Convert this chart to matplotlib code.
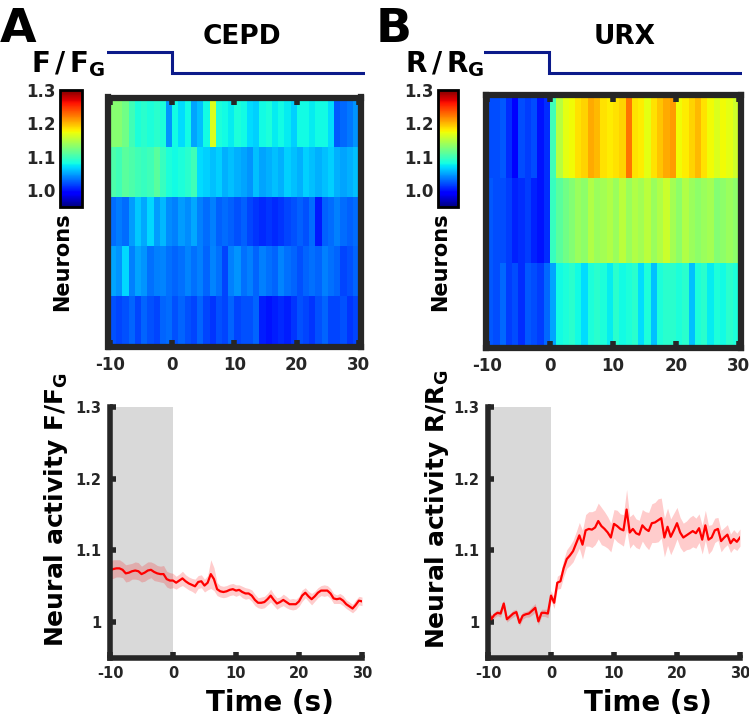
import numpy as np
import matplotlib.pyplot as plt

plt.rcParams['font.family'] = 'DejaVu Sans'
plt.rcParams['font.weight'] = 'bold'
plt.rcParams['mathtext.default'] = 'bf'
plt.rcParams['axes.unicode_minus'] = False

W, H = 749, 719
dark = '#262626'

# ---- dados ----
tempo = np.arange(-10, 30.01, 0.5)      # s, amostras a cada 0.5 s

cepd_mean = [1.072, 1.074, 1.075, 1.075, 1.073, 1.068, 1.069, 1.071, 1.072, 1.071,
             1.067, 1.069, 1.072, 1.073, 1.070, 1.068, 1.067, 1.067, 1.060, 1.058,
             1.058, 1.055, 1.058, 1.061, 1.057, 1.054, 1.052, 1.050, 1.056, 1.057,
             1.051, 1.055, 1.067, 1.060, 1.046, 1.043, 1.042, 1.043, 1.045, 1.046,
             1.044, 1.045, 1.042, 1.040, 1.040, 1.037, 1.031, 1.027, 1.027, 1.028,
             1.032, 1.037, 1.031, 1.026, 1.028, 1.031, 1.028, 1.025, 1.025, 1.025,
             1.029, 1.037, 1.041, 1.036, 1.032, 1.036, 1.041, 1.044, 1.044, 1.044,
             1.040, 1.033, 1.032, 1.033, 1.030, 1.025, 1.022, 1.019, 1.024, 1.030,
             1.029]
cepd_err = [.012, .013, .012, .012, .011, .012, .012, .011, .012, .012,
            .011, .012, .012, .011, .012, .011, .011, .012, .011, .011,
            .010, .009, .009, .010, .009, .009, .009, .010, .009, .009,
            .009, .010, .020, .016, .009, .008, .008, .008, .008, .008,
            .008, .007, .008, .008, .007, .008, .008, .007, .008, .008,
            .008, .009, .008, .008, .007, .008, .008, .007, .008, .007,
            .007, .008, .007, .007, .008, .007, .007, .007, .008, .007,
            .007, .007, .006, .007, .007, .006, .006, .006, .007, .006,
            .006]

urx_mean = [1.020, 1.004, 1.010, 1.013, 1.012, 1.026, 1.004, 1.008, 1.012, 1.014,
            0.999, 1.009, 1.011, 1.012, 1.016, 1.020, 1.001, 1.013, 1.013, 1.012,
            1.037, 1.027, 1.055, 1.057, 1.075, 1.088, 1.093, 1.099, 1.110, 1.121,
            1.108, 1.128, 1.130, 1.129, 1.132, 1.141, 1.134, 1.130, 1.125, 1.118,
            1.137, 1.134, 1.130, 1.128, 1.157, 1.125, 1.130, 1.124, 1.122, 1.135,
            1.130, 1.127, 1.138, 1.139, 1.142, 1.145, 1.118, 1.133, 1.119, 1.128,
            1.138, 1.125, 1.118, 1.121, 1.124, 1.127, 1.124, 1.131, 1.115, 1.135,
            1.115, 1.118, 1.128, 1.130, 1.113, 1.118, 1.122, 1.110, 1.116, 1.112,
            1.118]
urx_err = [.004, .005, .004, .004, .005, .005, .004, .004, .005, .004,
           .004, .005, .004, .005, .006, .006, .005, .005, .005, .006,
           .007, .008, .009, .010, .012, .013, .014, .015, .016, .018,
           .020, .022, .024, .025, .024, .025, .026, .024, .022, .020,
           .020, .022, .021, .022, .028, .022, .021, .020, .020, .022,
           .024, .026, .027, .028, .030, .028, .027, .026, .025, .024,
           .022, .021, .020, .020, .022, .022, .021, .020, .020, .021,
           .020, .018, .017, .016, .015, .014, .014, .013, .013, .012,
           .012]

# heatmaps: uma linha por neurónio, colunas de 1 s entre -10 e 30 s
cepd_heat = [
    [1.130, 1.130, 1.120, 1.100, 1.085, 1.090, 1.085, 1.090, 1.085, 1.045,
     1.080, 1.070, 1.080, 1.050, 1.060, 1.080, 1.165, 1.085, 1.080, 1.075,
     1.085, 1.080, 1.070, 1.065, 1.080, 1.085, 1.075, 1.080, 1.075, 1.065,
     1.080, 1.080, 1.075, 1.080, 1.080, 1.070, 1.025, 1.030, 1.035, 1.045],
    [1.105, 1.100, 1.110, 1.105, 1.100, 1.095, 1.100, 1.110, 1.095, 1.085,
     1.080, 1.085, 1.090, 1.100, 1.070, 1.065, 1.060, 1.065, 1.055, 1.060,
     1.055, 1.050, 1.045, 1.060, 1.050, 1.055, 1.060, 1.055, 1.065, 1.060,
     1.055, 1.065, 1.060, 1.055, 1.060, 1.065, 1.055, 1.050, 1.055, 1.060],
    [1.032, 1.037, 1.032, 1.048, 1.063, 1.052, 1.068, 1.048, 1.058, 1.042,
     1.038, 1.048, 1.042, 1.052, 1.038, 1.032, 1.038, 1.027, 1.032, 1.027,
     1.022, 1.027, 1.017, 1.012, 1.008, 1.012, 1.008, 1.012, 1.018, 1.022,
     1.027, 1.022, 1.032, 1.002, 1.027, 1.032, 1.038, 1.032, 1.027, 1.032],
    [1.050, 1.045, 1.068, 1.038, 1.050, 1.045, 1.033, 1.038, 1.040, 1.033,
     1.028, 1.033, 1.040, 1.033, 1.038, 1.028, 1.040, 1.033, 1.018, 1.038,
     1.045, 1.033, 1.038, 1.028, 1.038, 1.033, 1.028, 1.040, 1.033, 1.028,
     1.022, 1.028, 1.033, 1.028, 1.038, 1.033, 1.028, 1.018, 1.022, 1.028],
    [1.022, 1.018, 1.022, 1.028, 1.018, 1.028, 1.022, 1.018, 1.028, 1.032,
     1.022, 1.028, 1.022, 1.018, 1.028, 1.018, 1.012, 1.022, 1.018, 1.028,
     1.018, 1.022, 1.022, 1.028, 1.004, 1.000, 1.004, 1.008, 1.004, 1.012,
     1.022, 1.018, 1.012, 1.022, 1.028, 1.018, 1.018, 1.022, 1.012, 1.018],
]
urx_heat = [
    [1.020, 1.020, 1.025, 1.010, 0.995, 1.020, 1.015, 1.020, 1.000, 1.010,
     1.100, 1.150, 1.170, 1.175, 1.185, 1.190, 1.205, 1.200, 1.185, 1.180,
     1.185, 1.190, 1.225, 1.185, 1.180, 1.170, 1.185, 1.195, 1.205, 1.210,
     1.175, 1.180, 1.190, 1.200, 1.185, 1.175, 1.165, 1.175, 1.170, 1.160],
    [1.025, 1.020, 1.020, 1.015, 1.005, 1.010, 1.015, 1.005, 1.000, 1.010,
     1.095, 1.110, 1.120, 1.128, 1.138, 1.132, 1.148, 1.138, 1.142, 1.148,
     1.138, 1.152, 1.138, 1.148, 1.142, 1.152, 1.138, 1.148, 1.158, 1.142,
     1.132, 1.148, 1.138, 1.132, 1.138, 1.142, 1.128, 1.132, 1.138, 1.132],
    [1.025, 1.020, 1.030, 1.015, 1.020, 1.010, 1.025, 1.020, 1.015, 1.030,
     1.050, 1.080, 1.085, 1.090, 1.080, 1.070, 1.085, 1.090, 1.085, 1.075,
     1.090, 1.080, 1.085, 1.090, 1.070, 1.085, 1.060, 1.085, 1.090, 1.090,
     1.085, 1.090, 1.060, 1.085, 1.090, 1.075, 1.085, 1.080, 1.090, 1.085],
]

# estímulo (O2): nível alto antes de t=0, baixo depois
stim_t = [-10, 0, 0, 30]
stim_nivel = [1, 1, 0, 0]

xticks = [-10, 0, 10, 20, 30]
cbar_ticks = [1.0, 1.1, 1.2, 1.3]


def pos(x0, y0, x1, y1):
    # pixels (topo-esquerda) -> fracção da figura
    return [x0 / W, 1 - y1 / H, (x1 - x0) / W, (y1 - y0) / H]


fig = plt.figure(figsize=(W / 100, H / 100), dpi=100)


def painel_heat(rect, dados, cbar_rect, stim_rect):
    ax = fig.add_axes(rect)
    n = len(dados)
    im = ax.imshow(dados, cmap='jet', vmin=0.95, vmax=1.3, aspect='auto',
                   interpolation='nearest', extent=(-10, 30, 0, n))
    ax.set_xlim(-10.3, 30.3)
    ax.set_ylim(0, n)
    for s in ax.spines.values():
        s.set_linewidth(4.5)
        s.set_color(dark)
    ax.set_yticks([])
    ax.set_xticks(xticks)
    ax.tick_params(axis='x', direction='in', length=5, width=4, top=True,
                   color=dark, labelsize=12, pad=7, labelcolor=dark)

    cax = fig.add_axes(cbar_rect)
    cb = fig.colorbar(im, cax=cax)
    cb.outline.set_linewidth(2)
    cb.outline.set_edgecolor('black')
    cb.set_ticks(cbar_ticks)
    cb.set_ticklabels([f'{v:.1f}' for v in cbar_ticks])
    cax.yaxis.set_ticks_position('left')
    cax.tick_params(length=0, labelsize=12, pad=3, labelcolor=dark)

    axs = fig.add_axes(stim_rect)
    axs.plot(stim_t, stim_nivel, color='#0b1a8a', lw=2.2, solid_joinstyle='miter')
    axs.set_xlim(-10, 30)
    axs.set_ylim(-0.3, 1.3)
    axs.axis('off')
    return ax


def painel_traco(rect, media, erro, ylab, ylab_x):
    ax = fig.add_axes(rect)
    media = np.array(media)
    erro = np.array(erro)
    ax.axvspan(-10, 0, color='#d9d9d9', lw=0, zorder=0)
    ax.fill_between(tempo, media - erro, media + erro, color='#ff0000',
                    alpha=0.2, lw=0, zorder=1)
    ax.plot(tempo, media, color='#ff0000', lw=1.6, zorder=2)
    ax.set_xlim(-10, 30)
    ax.set_ylim(0.95, 1.3)
    ax.set_xticks(xticks)
    ax.set_yticks([1.0, 1.1, 1.2, 1.3])
    ax.set_yticklabels(['1', '1.1', '1.2', '1.3'])
    ax.spines['top'].set_visible(False)
    ax.spines['right'].set_visible(False)
    for k in ['left', 'bottom']:
        ax.spines[k].set_linewidth(4)
        ax.spines[k].set_color(dark)
    ax.tick_params(direction='in', length=4, width=4, color=dark,
                   labelsize=10.5, labelcolor=dark, pad=6)
    ax.set_ylabel(ylab, fontsize=18, fontweight='bold')
    ax.yaxis.set_label_coords(ylab_x, 0.59)
    ax.set_xlabel('Time (s)', fontsize=20, fontweight='bold')
    ax.xaxis.set_label_coords(0.635, -0.125)
    return ax


# ---- painel A (CEPD) ----
painel_heat(pos(108.5, 97.5, 360.5, 346.5), cepd_heat,
            pos(60, 90, 82, 207), pos(107, 45, 365, 80))
painel_traco(pos(110, 407, 362, 658), cepd_mean, cepd_err,
             r'Neural activity $F/F_G$', -0.16)

# ---- painel B (URX) ----
painel_heat(pos(485.5, 94.5, 740.5, 347.5), urx_heat,
            pos(438, 90, 458, 207), pos(484, 45, 742, 80))
painel_traco(pos(488, 407, 740, 658), urx_mean, urx_err,
             r'Neural activity $R/R_G$', -0.145)

# textos
fig.text(0 / W, 1 - 42 / H, 'A', fontsize=34, fontweight='bold', va='baseline')
fig.text(376 / W, 1 - 42 / H, 'B', fontsize=34, fontweight='bold', va='baseline')
fig.text(242 / W, 1 - 37 / H, 'CEPD', fontsize=19, fontweight='bold',
         ha='center', va='center')
fig.text(625 / W, 1 - 37 / H, 'URX', fontsize=19, fontweight='bold',
         ha='center', va='center')
fig.text(106 / W, 1 - 72 / H, r'$F\,/\,F_G$', fontsize=20, ha='right', va='baseline')
fig.text(484 / W, 1 - 72 / H, r'$R\,/\,R_G$', fontsize=20, ha='right', va='baseline')
fig.text(62 / W, 1 - 262 / H, 'Neurons', fontsize=15, fontweight='bold',
         rotation=90, ha='center', va='center')
fig.text(440 / W, 1 - 262 / H, 'Neurons', fontsize=15, fontweight='bold',
         rotation=90, ha='center', va='center')

fig.savefig('out.png', dpi=100)
